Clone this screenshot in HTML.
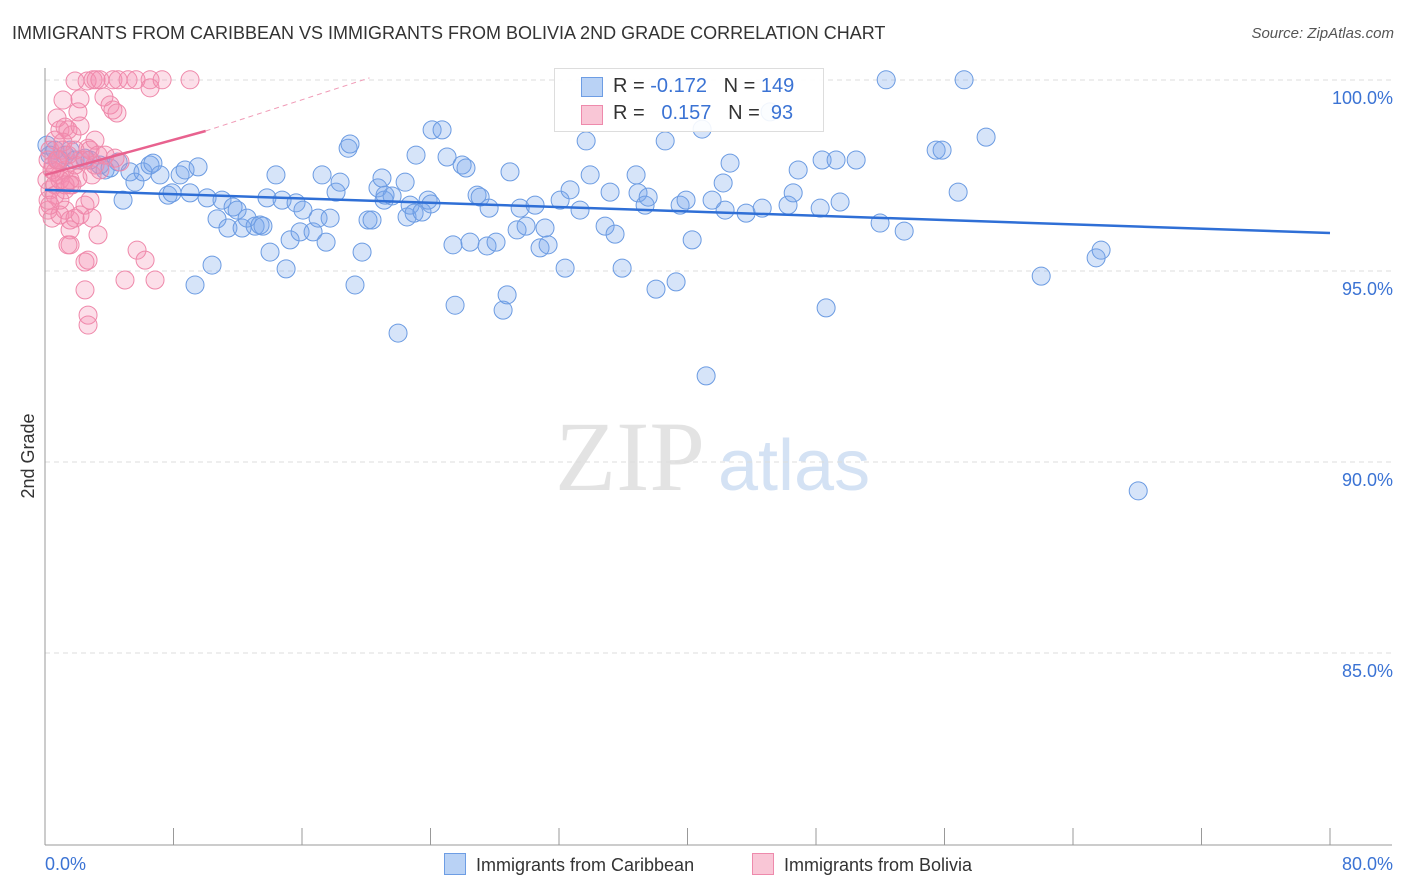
<!DOCTYPE html>
<html><head><meta charset="utf-8"><style>
body{margin:0;background:#fff;font-family:"Liberation Sans",sans-serif}
#w{position:relative;width:1406px;height:892px;overflow:hidden}
</style></head><body><div id="w">
<div style="position:absolute;left:12px;top:23px;font-size:18px;color:#333">IMMIGRANTS FROM CARIBBEAN VS IMMIGRANTS FROM BOLIVIA 2ND GRADE CORRELATION CHART</div>
<div style="position:absolute;right:12px;top:25px;font-size:15px;color:#555;font-style:italic">Source: ZipAtlas.com</div>
<svg id="s" width="1406" height="892" style="position:absolute;left:0;top:0">
<text x="555" y="490" font-family="Liberation Serif,serif" font-size="100" fill="#e3e3e3">ZIP</text>
<text x="718" y="490" font-family="Liberation Sans,sans-serif" font-size="72" fill="#d4e2f4">atlas</text>
<text transform="translate(34,456) rotate(-90)" text-anchor="middle" font-size="18" fill="#333">2nd Grade</text>
</svg>
<div style="position:absolute;left:554px;top:68px;width:268px;height:62px;border:1px solid #ddd;background:rgba(255,255,255,.9);font-size:20px">
<div style="position:absolute;left:26px;top:8px;width:20px;height:18px;background:#b9d2f5;border:1px solid #6d9de4"></div>
<div style="position:absolute;left:58px;top:6px;color:#333">R = <span style="color:#3b73d4">-0.172</span>&nbsp;&nbsp;&nbsp;N = <span style="color:#3b73d4">149</span></div>
<div style="position:absolute;left:26px;top:36px;width:20px;height:18px;background:#f9c6d6;border:1px solid #ee8aac"></div>
<div style="position:absolute;left:58px;top:33px;color:#333">R = &nbsp;&nbsp;<span style="color:#3b73d4">0.157</span>&nbsp;&nbsp;&nbsp;N = &nbsp;<span style="color:#3b73d4">93</span></div>
</div>
<div style="position:absolute;left:444px;top:853px;font-size:18px;color:#333"><span style="display:inline-block;width:20px;height:20px;background:#b9d2f5;border:1px solid #6d9de4;vertical-align:-4px;margin-right:10px"></span>Immigrants from Caribbean</div>
<div style="position:absolute;left:752px;top:853px;font-size:18px;color:#333"><span style="display:inline-block;width:20px;height:20px;background:#f9c6d6;border:1px solid #ee8aac;vertical-align:-4px;margin-right:10px"></span>Immigrants from Bolivia</div>
</div>
<script>
const blueX=[.93,1.56,2.49,3.42,4.55,4.86,5.29,5.60,6.10,6.54,6.72,7.16,7.66,7.91,8.41,8.72,9.03,9.53,9.34,10.09,10.40,10.71,11.02,11.39,11.71,11.96,12.27,12.58,13.08,13.39,13.57,13.82,14.01,14.38,14.76,15.01,15.26,15.63,15.88,16.06,16.69,17.00,17.25,17.50,17.75,18.12,18.37,18.87,18.99,19.30,19.74,20.11,20.36,20.73,20.98,21.11,21.61,21.98,22.42,22.54,22.73,22.98,23.10,23.47,23.85,24.03,24.10,24.72,25.03,25.40,25.53,25.97,26.21,26.46,26.90,27.09,27.52,27.65,28.08,28.52,28.77,28.95,29.39,29.58,29.95,30.51,30.82,31.13,31.32,32.07,32.38,32.69,33.31,33.69,33.94,34.87,35.18,35.49,35.93,36.80,36.92,37.36,37.55,38.04,38.61,39.29,39.54,39.91,40.29,40.91,41.16,41.53,42.22,42.65,43.65,44.65,46.26,46.58,46.89,48.38,48.63,49.25,49.50,50.50,51.99,52.37,53.49,55.48,55.85,56.85,57.22,58.59,62.02,65.44,65.75,68.06,.12,.31,.62,1.25,1.87,2.80,3.74,4.05,21.17,42.34,48.26,45.14];
const blueY=[98.35,98.61,98.40,98.22,98.30,97.30,98.04,97.77,98.04,98.22,98.27,97.96,97.43,97.49,97.96,98.09,97.49,98.17,95.08,97.36,95.60,96.81,97.30,96.57,97.12,97.04,96.57,96.83,96.62,96.65,96.62,97.36,95.94,97.96,97.30,95.50,96.26,97.23,96.47,97.04,96.47,96.83,97.96,96.20,96.83,97.51,97.77,98.66,98.77,95.08,95.94,96.78,96.78,97.62,97.88,97.30,97.41,93.82,97.77,96.86,97.17,96.96,98.48,96.99,97.30,97.20,99.14,99.14,98.43,96.13,94.55,98.22,98.14,96.20,97.43,97.38,96.10,97.09,96.20,94.42,94.82,98.04,96.52,97.09,96.62,97.17,96.05,96.57,96.13,97.30,95.52,97.57,97.04,98.85,97.96,96.62,97.51,96.41,95.52,97.96,97.49,97.17,97.38,94.97,98.85,95.16,97.17,97.30,96.26,99.16,92.70,97.30,97.75,98.27,96.96,97.09,97.17,97.49,98.09,98.35,94.48,98.35,97.25,98.35,96.70,100.45,96.49,98.61,98.61,97.51,100.45,98.95,95.31,95.79,95.99,89.69,98.74,98.48,98.61,98.48,98.35,98.35,98.09,98.14,97.43,97.04,97.09,99.61];
const pinkX=[1.87,2.62,2.99,3.18,3.42,4.23,4.55,5.17,5.67,6.54,6.54,7.29,9.03,1.12,2.18,2.05,3.67,4.05,4.23,4.48,.75,1.25,.93,1.43,1.68,2.18,.62,.31,.19,.44,.12,.31,.62,.93,1.25,1.56,1.87,2.18,2.68,2.93,3.11,3.42,3.74,.19,.44,.93,1.25,1.56,1.87,2.18,2.49,2.93,3.30,1.56,1.56,1.43,2.49,2.68,4.98,5.73,6.23,6.85,2.49,2.68,2.68,.93,.62,1.25,1.68,2.05,.81,1.06,1.43,1.87,2.49,2.80,3.11,.62,.19,.31,.93,1.25,1.56,.50,.75,3.30,4.36,4.67,1.12,2.80];
const pinkY=[100.42,100.42,100.45,100.45,100.45,100.45,100.45,100.45,100.45,100.45,100.24,100.45,100.45,99.92,99.95,99.61,100.00,99.79,99.66,99.58,99.45,99.21,99.14,99.14,99.01,99.24,98.87,98.61,98.35,98.09,97.83,97.57,97.70,97.96,98.09,97.83,98.22,98.35,98.66,97.96,98.22,98.09,98.48,97.04,96.83,96.91,97.04,96.78,96.83,96.91,97.17,96.83,96.39,96.52,96.13,96.13,95.68,95.73,95.21,95.99,95.73,95.21,94.95,94.29,94.03,97.30,97.43,97.57,97.70,97.88,98.35,98.61,98.48,98.61,98.35,98.61,98.87,98.04,97.30,97.17,97.83,97.70,97.70,98.22,98.35,98.48,98.40,98.30,98.82,97.30];
const yTicks=[100,95,90,85];
const xTicks=[0,8,16,24,32,40,48,56,64,72,80];
const blueTrend=[[0,97.57],[80,96.44]];
const pinkTrend=[[0,97.96],[10,99.11]];
const pinkDash=[[10,99.11],[20.2,100.5]];
const X=v=>45+v*1285/80, Y=v=>97+(100-v)*38.2;
const s=document.getElementById('s'),NS='http://www.w3.org/2000/svg';
function mk(t,a){const e=document.createElementNS(NS,t);for(const k in a)e.setAttribute(k,a[k]);s.appendChild(e);return e;}
yTicks.forEach(v=>{
const g=mk('line',{x1:45,x2:1392,y1:Y(v)-17,y2:Y(v)-17,stroke:'#ddd','stroke-dasharray':'5,4'});


const t=mk('text',{x:1393,y:Y(v)+7,'text-anchor':'end','font-size':18,fill:'#3b73d4'});t.textContent=v.toFixed(1)+'%';


});
const ax=mk('line',{x1:45,x2:45,y1:68,y2:845,stroke:'#999'});


const bx=mk('line',{x1:45,x2:1392,y1:845,y2:845,stroke:'#999'});


xTicks.forEach(v=>{const l=mk('line',{x1:X(v),x2:X(v),y1:828,y2:845,stroke:'#999'});

});
[[0,'0.0%','start',45],[80,'80.0%','end',1393]].forEach(a=>{const t=mk('text',{x:a[3],y:870,'text-anchor':a[2],'font-size':18,fill:'#3b73d4'});t.textContent=a[1];

});
blueX.forEach((v,i)=>{const c=mk('circle',{cx:X(v),cy:Y(blueY[i]),r:9,fill:'rgba(120,165,235,0.3)',stroke:'#6b9be2','stroke-width':1});

});
pinkX.forEach((v,i)=>{const c=mk('circle',{cx:X(v),cy:Y(pinkY[i]),r:9,fill:'rgba(245,140,175,0.28)',stroke:'#ef88aa','stroke-width':1});

});
const bl=mk('line',{x1:X(blueTrend[0][0]),y1:Y(blueTrend[0][1]),x2:X(blueTrend[1][0]),y2:Y(blueTrend[1][1]),stroke:'#2f6fd6','stroke-width':2.5});


const pl=mk('line',{x1:X(pinkTrend[0][0]),y1:Y(pinkTrend[0][1]),x2:X(pinkTrend[1][0]),y2:Y(pinkTrend[1][1]),stroke:'#e8628f','stroke-width':2.5});


const pd=mk('line',{x1:X(pinkDash[0][0]),y1:Y(pinkDash[0][1]),x2:X(pinkDash[1][0]),y2:Y(pinkDash[1][1]),stroke:'#f09ab6','stroke-width':1,'stroke-dasharray':'5,4'});


</script></body></html>
